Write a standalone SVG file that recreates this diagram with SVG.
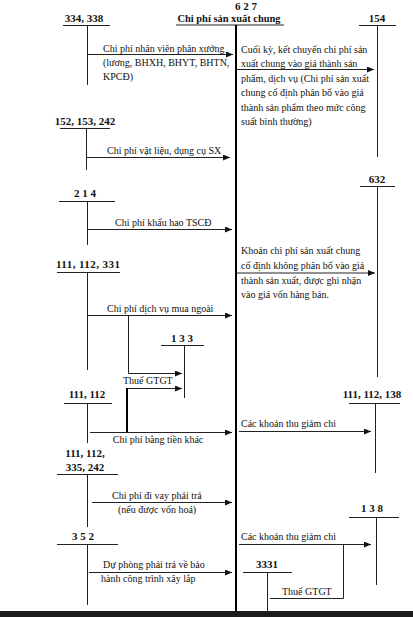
<svg xmlns="http://www.w3.org/2000/svg" width="413" height="617" viewBox="0 0 413 617">
<style>
text{font-family:"Liberation Serif","Times New Roman",serif;fill:#111}
.acc{font-size:11px;font-weight:bold;text-anchor:middle}
.lbl{font-size:10px}
.t{stroke:#222;stroke-width:1;fill:none}
.thick{stroke:#000;stroke-width:2;fill:none}
.arr{stroke:#222;stroke-width:1;fill:none;marker-end:url(#ah)}
</style>
<defs>
<marker id="ah" markerUnits="userSpaceOnUse" markerWidth="8" markerHeight="6" refX="7" refY="3" orient="auto">
<path d="M0,0 L7,3 L0,6 z" fill="#111"/>
</marker>
</defs>
<rect width="413" height="617" fill="#fff"/>

<g id="acc-627">
<text class="acc" x="246" y="10">6 2 7</text>
<text class="acc" x="229" y="22" textLength="103" lengthAdjust="spacingAndGlyphs">Chi phí sản xuất chung</text>
<line class="t" x1="176" y1="25" x2="284" y2="25"/>
<line class="thick" x1="236" y1="25" x2="236" y2="611"/>
</g>
<g id="acc-334-338">
<text class="acc" x="84" y="22">334, 338</text>
<line class="t" x1="63" y1="25.5" x2="110" y2="25.5"/>
<line class="t" x1="87.5" y1="25.5" x2="87.5" y2="85"/>
</g>
<g id="acc-154">
<text class="acc" x="377" y="22">154</text>
<line class="t" x1="359" y1="25.5" x2="396" y2="25.5"/>
<line class="t" x1="377.5" y1="25.5" x2="377.5" y2="157"/>
</g>
<g id="acc-152-153-242">
<text class="acc" x="85" y="125">152, 153, 242</text>
<line class="t" x1="60" y1="128.5" x2="110" y2="128.5"/>
<line class="t" x1="86.5" y1="128.5" x2="86.5" y2="170"/>
</g>
<g id="acc-632">
<text class="acc" x="377" y="183">632</text>
<line class="t" x1="360" y1="186.5" x2="395" y2="186.5"/>
<line class="t" x1="377.5" y1="186.5" x2="377.5" y2="377"/>
</g>
<g id="acc-214">
<text class="acc" x="85" y="197">2 1 4</text>
<line class="t" x1="59" y1="201.5" x2="115" y2="201.5"/>
<line class="t" x1="87.5" y1="201.5" x2="87.5" y2="245"/>
</g>
<g id="acc-111-112-331">
<text class="acc" x="88" y="268" textLength="64" lengthAdjust="spacing">111, 112, 331</text>
<line class="t" x1="57" y1="272.5" x2="120" y2="272.5"/>
<line class="t" x1="87.5" y1="272.5" x2="87.5" y2="370"/>
</g>
<g id="acc-133">
<text class="acc" x="182" y="342">1 3 3</text>
<line class="t" x1="161" y1="345.5" x2="204" y2="345.5"/>
<line class="t" x1="184.5" y1="345.5" x2="184.5" y2="398"/>
</g>
<g id="acc-111-112">
<text class="acc" x="87" y="398">111, 112</text>
<line class="t" x1="64" y1="403.5" x2="112" y2="403.5"/>
<line class="t" x1="87.5" y1="403.5" x2="87.5" y2="443"/>
</g>
<g id="acc-111-112-138">
<text class="acc" x="372" y="398">111, 112, 138</text>
<line class="t" x1="349" y1="403.5" x2="400" y2="403.5"/>
<line class="t" x1="375.5" y1="403.5" x2="375.5" y2="473"/>
</g>
<g id="acc-111-112-335-242">
<text class="acc" x="85" y="457">111, 112,</text>
<text class="acc" x="85" y="471">335, 242</text>
<line class="t" x1="57" y1="474.5" x2="118" y2="474.5"/>
<line class="t" x1="87.5" y1="474.5" x2="87.5" y2="527"/>
</g>
<g id="acc-138">
<text class="acc" x="372" y="512">1 3 8</text>
<line class="t" x1="349" y1="517.5" x2="399" y2="517.5"/>
<line class="t" x1="376.5" y1="517.5" x2="376.5" y2="585"/>
</g>
<g id="acc-352">
<text class="acc" x="83" y="540">3 5 2</text>
<line class="t" x1="57" y1="544.5" x2="118" y2="544.5"/>
<line class="t" x1="87.5" y1="544.5" x2="87.5" y2="605"/>
</g>
<g id="acc-3331">
<text class="acc" x="267" y="568">3331</text>
<line class="t" x1="243" y1="572.5" x2="292" y2="572.5"/>
<line class="t" x1="267.5" y1="572.5" x2="267.5" y2="611"/>
</g>

<g id="connectors">
<line class="arr" x1="88" y1="54.5" x2="233" y2="54.5"/>
<text class="lbl" x="103" y="52">Chi phí nhân viên phân xưởng</text>
<text class="lbl" x="103" y="66">(lương, BHXH, BHYT, BHTN,</text>
<text class="lbl" x="103" y="80">KPCĐ)</text>

<line class="arr" x1="237" y1="69.5" x2="374" y2="69.5"/>
<text class="lbl" x="241" y="53">Cuối kỳ, kết chuyển chi phí sản</text>
<text class="lbl" x="241" y="67">xuất chung vào giá thành sản</text>
<text class="lbl" x="241" y="82">phẩm, dịch vụ (Chi phí sản xuất</text>
<text class="lbl" x="241" y="96">chung cố định phân bổ vào giá</text>
<text class="lbl" x="241" y="111">thành sản phẩm theo mức công</text>
<text class="lbl" x="241" y="125">suất bình thường)</text>

<line class="arr" x1="87" y1="157.5" x2="230" y2="157.5"/>
<text class="lbl" x="107" y="154">Chi phí vật liệu, dụng cụ SX</text>

<line class="arr" x1="88" y1="229.5" x2="232" y2="229.5"/>
<text class="lbl" x="115" y="226">Chi phí khấu hao TSCĐ</text>

<line class="arr" x1="237" y1="273" x2="375" y2="273"/>
<text class="lbl" x="241" y="254">Khoản chi phí sản xuất chung</text>
<text class="lbl" x="241" y="269">cố định không phân bổ vào giá</text>
<text class="lbl" x="241" y="284">thành sản xuất, được ghi nhận</text>
<text class="lbl" x="241" y="298">vào giá vốn hàng bán.</text>

<line class="arr" x1="88" y1="315.5" x2="232" y2="315.5"/>
<text class="lbl" x="107" y="312">Chi phí dịch vụ mua ngoài</text>
<polyline class="arr" points="128.5,315.5 128.5,373.5 182,373.5"/>
<text class="lbl" x="123" y="384">Thuế GTGT</text>
<line class="arr" x1="128" y1="388.5" x2="182" y2="388.5"/>
<line class="thick" x1="127" y1="388" x2="127" y2="432"/>

<line class="arr" x1="90" y1="432.5" x2="232" y2="432.5"/>
<text class="lbl" x="158" y="443" text-anchor="middle">Chi phí bằng tiền khác</text>

<line class="arr" x1="239" y1="431.5" x2="371" y2="431.5"/>
<text class="lbl" x="241" y="427">Các khoản thu giảm chi</text>

<line class="arr" x1="92" y1="502.5" x2="232" y2="502.5"/>
<text class="lbl" x="112" y="499">Chi phí đi vay phải trả</text>
<text class="lbl" x="118" y="513">(nếu được vốn hoá)</text>

<line class="arr" x1="239" y1="544.5" x2="371" y2="544.5"/>
<text class="lbl" x="241" y="540">Các khoản thu giảm chi</text>
<polyline class="t" points="343.5,544.5 343.5,598.5 270,598.5"/>
<text class="lbl" x="282" y="595">Thuế GTGT</text>

<line class="arr" x1="89" y1="572.5" x2="232" y2="572.5"/>
<text class="lbl" x="103" y="568">Dự phòng phải trả về bảo</text>
<text class="lbl" x="101" y="582">hành công trình xây lắp</text>
</g>

<rect x="0" y="611" width="413" height="6" fill="#1c1c1c"/>
</svg>
